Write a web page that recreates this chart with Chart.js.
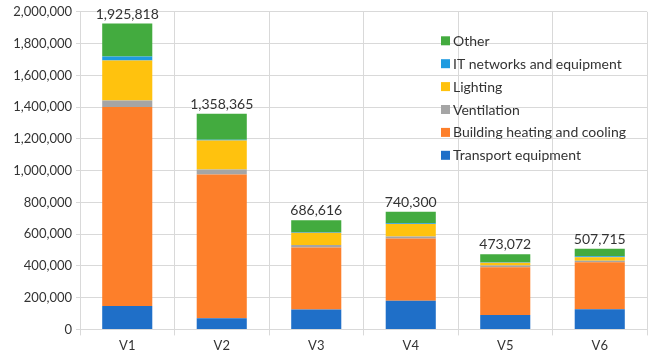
<!DOCTYPE html>
<html><head><meta charset="utf-8">
<script src="https://cdn.jsdelivr.net/npm/chart.js@4"></script>
<style>html,body{margin:0;padding:0;background:#fff}#wrap{width:648px;height:358px}</style>
</head><body><div id="wrap"><canvas id="c" width="648" height="358"></canvas></div>
<script>
const categories = ['V1','V2','V3','V4','V5','V6'];
const totals = [1925818, 1358365, 686616, 740300, 473072, 507715];
const transport = [148000, 70000, 125000, 180000, 91000, 127000];
const heating = [1252000, 905000, 390000, 392000, 301000, 296000];
const ventilation = [42000, 32000, 17000, 13000, 10000, 10000];
const lighting = [252000, 182000, 76000, 78000, 17000, 22000];
const itNetworks = [25000, 5000, 6000, 6000, 4000, 6000];
const other = [206818, 164365, 72616, 71300, 50072, 46715];
const yTicks = [0, 200000, 400000, 600000, 800000, 1000000, 1200000, 1400000, 1600000, 1800000, 2000000];

const FONT = 'Lato, "Open Sans", sans-serif';
const TXT = '#333333';

const datasets = [
  {label: 'Transport equipment', data: transport, backgroundColor: '#1f6fc8'},
  {label: 'Building heating and cooling', data: heating, backgroundColor: '#fd7f2a'},
  {label: 'Ventilation', data: ventilation, backgroundColor: '#a5a5a5'},
  {label: 'Lighting', data: lighting, backgroundColor: '#ffc20e'},
  {label: 'IT networks and equipment', data: itNetworks, backgroundColor: '#1e9be0'},
  {label: 'Other', data: other, backgroundColor: '#43ab3f'}
];

const overlay = {
  id: 'overlay',
  afterDatasetsDraw(chart) {
    const ctx = chart.ctx;
    const x = chart.scales.x, y = chart.scales.y;
    ctx.save();
    ctx.font = '14px ' + FONT;
    ctx.fillStyle = TXT;
    ctx.textAlign = 'center';
    ctx.textBaseline = 'alphabetic';
    categories.forEach((c, i) => {
      const px = x.getPixelForValue(i);
      const py = y.getPixelForValue(totals[i]);
      ctx.fillText(totals[i].toLocaleString('en-US'), px, py - 5);
    });
    // legend inside chart area (reversed order)
    const ca = chart.chartArea;
    const lx = ca.left + 361, ly0 = ca.top + 29, step = 22.9;
    ctx.textAlign = 'left';
    ctx.textBaseline = 'middle';
    const items = datasets.slice().reverse();
    items.forEach((d, k) => {
      const yy = ly0 + k * step;
      ctx.fillStyle = d.backgroundColor;
      ctx.fillRect(lx, yy - 4.5, 9, 9);
      ctx.fillStyle = TXT;
      ctx.fillText(d.label, lx + 12, yy + 0.5);
    });
    ctx.restore();
  }
};

new Chart(document.getElementById('c'), {
  type: 'bar',
  data: {labels: categories, datasets: datasets},
  options: {
    responsive: false,
    devicePixelRatio: 1,
    animation: false,
    layout: {padding: {top: 7, right: 1, left: 0, bottom: 1}},
    plugins: {legend: {display: false}, tooltip: {enabled: false}},
    datasets: {bar: {categoryPercentage: 1, barPercentage: 0.53}},
    scales: {
      x: {
        stacked: true,
        grid: {color: '#d9d9d9', offset: true, tickLength: 6},
        border: {color: '#d9d9d9'},
        ticks: {color: TXT, font: {family: FONT, size: 13}, padding: 3}
      },
      y: {
        stacked: true,
        min: 0, max: 2000000,
        afterBuildTicks(s) { s.ticks = yTicks.map(v => ({value: v})); },
        afterFit(s) { s.width = 80; },
        grid: {color: '#d9d9d9', tickLength: 4},
        border: {color: '#d9d9d9'},
        ticks: {color: TXT, font: {family: FONT, size: 13}, padding: 4,
          callback: v => Number(v).toLocaleString('en-US')}
      }
    }
  },
  plugins: [overlay]
});
</script></body></html>
